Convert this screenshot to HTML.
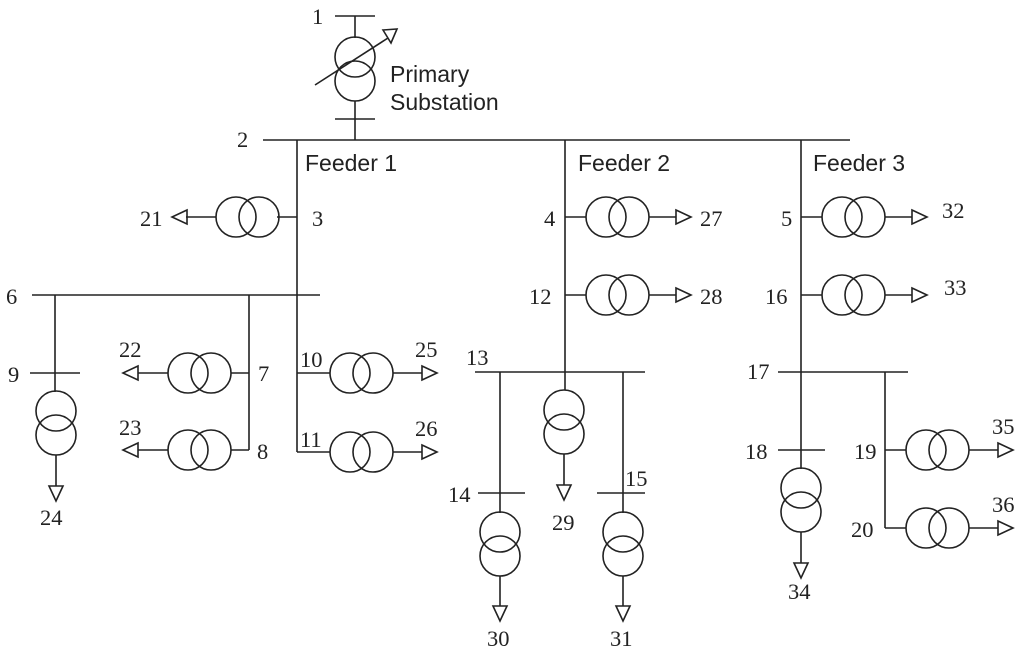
<!DOCTYPE html>
<html><head><meta charset="utf-8"><style>
html,body{margin:0;padding:0;background:#fff;}
svg{display:block;}
.n{font-family:"Liberation Serif",serif;font-size:22.5px;fill:#222;}
.s{font-family:"Liberation Sans",sans-serif;font-size:23px;fill:#222;}
</style></head><body>
<svg width="1024" height="653" viewBox="0 0 1024 653" xmlns="http://www.w3.org/2000/svg">
<defs>
<g id="th"><circle cx="0" cy="0" r="20"/><circle cx="23" cy="0" r="20"/></g>
<g id="tv"><circle cx="0" cy="0" r="20"/><circle cx="0" cy="24" r="20"/></g>
<path id="ar" d="M0,-7 L15,0 L0,7 Z"/>
<path id="al" d="M0,-7 L-15,0 L0,7 Z"/>
<path id="ad" d="M-7,0 L0,15 L7,0 Z"/>
</defs>
<g stroke="#222" stroke-width="1.6" fill="none">
<line x1="335" y1="16" x2="375" y2="16"/>
<line x1="355" y1="16" x2="355" y2="38"/>
<circle cx="355" cy="57" r="20"/><circle cx="355" cy="81" r="20"/>
<line x1="355" y1="101" x2="355" y2="140"/>
<line x1="335" y1="119" x2="375" y2="119"/>
<line x1="315" y1="85" x2="388" y2="38"/>
<path d="M383,30 L397,29 L391,43 Z"/>
<line x1="263" y1="140" x2="850" y2="140"/>
<line x1="297" y1="140" x2="297" y2="452"/>
<line x1="277" y1="217" x2="297" y2="217"/>
<use href="#th" x="236" y="217"/>
<line x1="216" y1="217" x2="186" y2="217"/>
<use href="#al" x="187" y="217"/>
<line x1="32" y1="295" x2="320" y2="295"/>
<line x1="55" y1="295" x2="55" y2="392"/>
<line x1="30" y1="373" x2="80" y2="373"/>
<use href="#tv" x="56" y="411"/>
<line x1="56" y1="455" x2="56" y2="486"/>
<use href="#ad" x="56" y="486"/>
<line x1="249" y1="295" x2="249" y2="450"/>
<line x1="231" y1="373" x2="249" y2="373"/>
<use href="#th" x="188" y="373"/>
<line x1="168" y1="373" x2="138" y2="373"/>
<use href="#al" x="138" y="373"/>
<line x1="231" y1="450" x2="249" y2="450"/>
<use href="#th" x="188" y="450"/>
<line x1="168" y1="450" x2="138" y2="450"/>
<use href="#al" x="138" y="450"/>
<line x1="297" y1="373" x2="330" y2="373"/>
<use href="#th" x="350" y="373"/>
<line x1="393" y1="373" x2="422" y2="373"/>
<use href="#ar" x="422" y="373"/>
<line x1="297" y1="452" x2="330" y2="452"/>
<use href="#th" x="350" y="452"/>
<line x1="393" y1="452" x2="422" y2="452"/>
<use href="#ar" x="422" y="452"/>
<line x1="565" y1="140" x2="565" y2="390"/>
<line x1="565" y1="217" x2="586" y2="217"/>
<use href="#th" x="606" y="217"/>
<line x1="649" y1="217" x2="676" y2="217"/>
<use href="#ar" x="676" y="217"/>
<line x1="565" y1="295" x2="586" y2="295"/>
<use href="#th" x="606" y="295"/>
<line x1="649" y1="295" x2="676" y2="295"/>
<use href="#ar" x="676" y="295"/>
<line x1="475" y1="372" x2="645" y2="372"/>
<use href="#tv" x="564" y="410"/>
<line x1="564" y1="454" x2="564" y2="485"/>
<use href="#ad" x="564" y="485"/>
<line x1="500" y1="372" x2="500" y2="513"/>
<line x1="478" y1="493" x2="525" y2="493"/>
<use href="#tv" x="500" y="532"/>
<line x1="500" y1="576" x2="500" y2="606"/>
<use href="#ad" x="500" y="606"/>
<line x1="623" y1="372" x2="623" y2="513"/>
<line x1="597" y1="493" x2="645" y2="493"/>
<use href="#tv" x="623" y="532"/>
<line x1="623" y1="576" x2="623" y2="606"/>
<use href="#ad" x="623" y="606"/>
<line x1="801" y1="140" x2="801" y2="469"/>
<line x1="801" y1="217" x2="822" y2="217"/>
<use href="#th" x="842" y="217"/>
<line x1="885" y1="217" x2="912" y2="217"/>
<use href="#ar" x="912" y="217"/>
<line x1="801" y1="295" x2="822" y2="295"/>
<use href="#th" x="842" y="295"/>
<line x1="885" y1="295" x2="912" y2="295"/>
<use href="#ar" x="912" y="295"/>
<line x1="778" y1="372" x2="908" y2="372"/>
<line x1="778" y1="450" x2="825" y2="450"/>
<use href="#tv" x="801" y="488"/>
<line x1="801" y1="532" x2="801" y2="563"/>
<use href="#ad" x="801" y="563"/>
<line x1="885" y1="372" x2="885" y2="528"/>
<line x1="885" y1="450" x2="906" y2="450"/>
<use href="#th" x="926" y="450"/>
<line x1="969" y1="450" x2="998" y2="450"/>
<use href="#ar" x="998" y="450"/>
<line x1="885" y1="528" x2="906" y2="528"/>
<use href="#th" x="926" y="528"/>
<line x1="969" y1="528" x2="998" y2="528"/>
<use href="#ar" x="998" y="528"/>
</g>
<text class="s" x="390" y="82">Primary</text>
<text class="s" x="390" y="110">Substation</text>
<text class="s" x="305" y="171">Feeder 1</text>
<text class="s" x="578" y="171">Feeder 2</text>
<text class="s" x="813" y="171">Feeder 3</text>
<g class="n">
<text x="312" y="24">1</text>
<text x="237" y="147">2</text>
<text x="312" y="226">3</text>
<text x="140" y="226">21</text>
<text x="6" y="304">6</text>
<text x="8" y="382">9</text>
<text x="40" y="525">24</text>
<text x="119" y="357">22</text>
<text x="119" y="435">23</text>
<text x="258" y="381">7</text>
<text x="257" y="459">8</text>
<text x="300" y="367">10</text>
<text x="300" y="447">11</text>
<text x="415" y="357">25</text>
<text x="415" y="436">26</text>
<text x="544" y="226">4</text>
<text x="529" y="304">12</text>
<text x="700" y="226">27</text>
<text x="700" y="304">28</text>
<text x="466" y="365">13</text>
<text x="448" y="502">14</text>
<text x="625" y="486">15</text>
<text x="552" y="530">29</text>
<text x="487" y="646">30</text>
<text x="610" y="646">31</text>
<text x="781" y="226">5</text>
<text x="765" y="304">16</text>
<text x="942" y="218">32</text>
<text x="944" y="295">33</text>
<text x="747" y="379">17</text>
<text x="745" y="459">18</text>
<text x="788" y="599">34</text>
<text x="854" y="459">19</text>
<text x="851" y="537">20</text>
<text x="992" y="434">35</text>
<text x="992" y="512">36</text>
</g>
</svg>
</body></html>
